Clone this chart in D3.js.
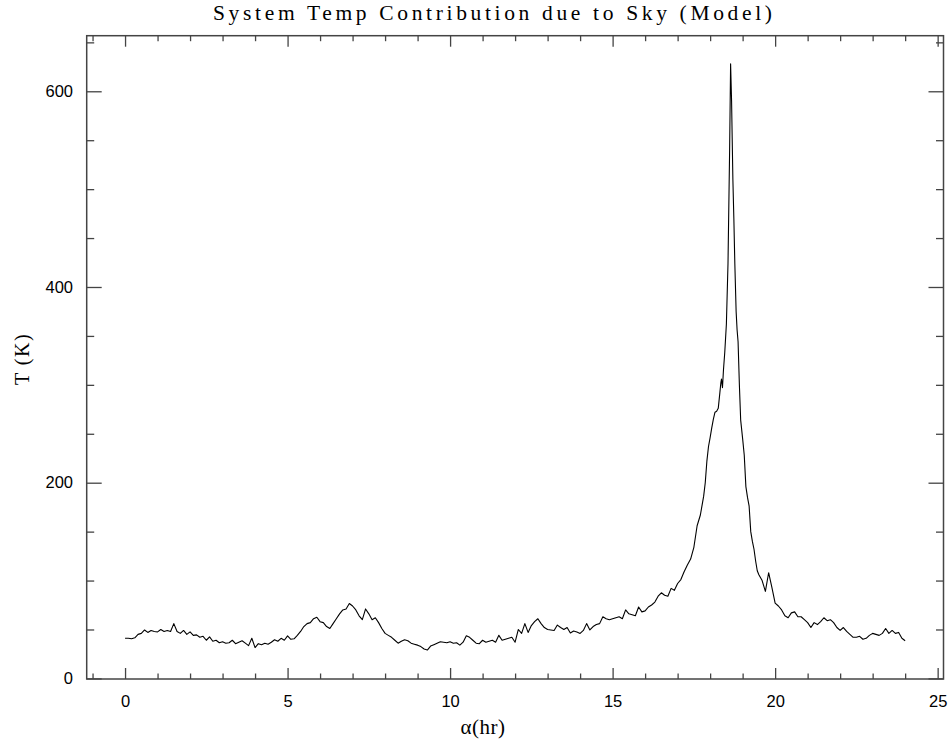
<!DOCTYPE html>
<meta charset="utf-8">
<style>

body {
  margin: 0;
  background: #fff;
}

.tick text {
  font: 16.5px "Liberation Sans", Arial, sans-serif;
  fill: #000;
}

.tick line {
  stroke: #444;
  stroke-width: 1.3px;
}

.serif {
  font-family: "Liberation Serif", "DejaVu Serif", serif;
  fill: #000;
}

</style>
<body>
<script src="https://d3js.org/d3.v7.js"></script>
<script>

// sky temperature (K) every 0.1 hr from 0.0 to 17.8
const tempsRise = [
  41, 41, 40.5, 41.5, 45, 46, 49.5, 47, 49, 48,
  47.5, 50, 48, 49, 48, 56, 48, 46, 49, 45,
  47.5, 44, 44.5, 42, 43, 39, 42.5, 38, 39, 36.5,
  37.5, 36, 36.5, 39, 35.5, 37, 38.5, 36, 33.5, 41,
  31.5, 35.5, 34.5, 36, 35, 37, 39.5, 38, 41, 39,
  43.5, 40, 40.5, 44, 48, 53, 56, 57, 61, 62.5,
  58, 57, 53, 51, 56, 61, 66, 70, 71, 76.5,
  74, 70, 64, 60, 71, 66, 60, 62, 57, 51,
  46, 44, 42, 39, 36, 38, 39.5, 38.5, 36, 35,
  34, 32.5, 30, 29, 33, 34.5, 36, 37.5, 37, 36.5,
  37.5, 36, 36.5, 34, 37, 43.5, 42, 39, 36, 35.5,
  39, 37, 38, 39, 37, 44, 39, 40, 41, 42,
  37, 50, 46, 56, 47, 54, 58, 61, 56, 52,
  50, 49.5, 49, 54.5, 52, 50, 52, 46.5, 48.5, 47.5,
  46, 49, 56, 49.5, 53, 55, 56, 63, 61, 60,
  61, 62, 63, 61, 70, 66, 65, 64, 73, 68,
  69, 73, 75, 78, 84, 87.5, 85, 84, 92, 90,
  97, 101, 109, 116, 122, 134, 156, 167, 186
];

// finer samples through the Galactic-centre peak
const peakHours = [
  17.85, 17.9, 17.95, 18.0, 18.05, 18.1, 18.15, 18.2, 18.25, 18.3,
  18.33, 18.35, 18.38, 18.41, 18.45, 18.5, 18.55, 18.6, 18.63, 18.66,
  18.7, 18.73, 18.76, 18.8, 18.83, 18.86, 18.9, 18.94, 19.0, 19.05,
  19.1, 19.15, 19.2, 19.25, 19.3, 19.35, 19.4, 19.45, 19.5
];
const peakTemps = [
  200, 222, 237, 246, 256, 265, 272, 273, 276, 292,
  302, 306, 297, 315, 333, 362, 424, 540, 628, 590,
  510, 470, 424, 375, 356, 344, 300, 264, 245, 228,
  196, 185, 176, 150, 140, 132, 120, 110, 106
];

// every 0.1 hr from 19.6 to 24.0
const tempsFall = [
  100, 89, 108, 93, 77,
  74, 70, 64, 62, 67, 68, 63, 63, 60,
  57, 52, 57, 55, 58, 62, 59, 60, 57, 52,
  49, 52, 48, 45, 42, 42, 43, 40, 41, 44,
  46, 45, 44, 46, 51, 46, 49, 46, 47, 41,
  38.5
];

const xMajor = [0, 5, 10, 15, 20, 25];
const xMinor = d3.range(-1, 26).filter(d => d % 5 !== 0);
const yMajor = [0, 200, 400, 600];
const yMinor = d3.range(0, 651, 50).filter(d => d % 200 !== 0);

const title = "System Temp Contribution due to Sky (Model)";
const xTitle = "α(hr)";
const yTitle = "T (K)";

const data = [
  ...tempsRise.map((t, i) => ({hr: i / 10, t: t})),
  ...peakHours.map((h, i) => ({hr: h, t: peakTemps[i]})),
  ...tempsFall.map((t, i) => ({hr: Math.round(196 + i) / 10, t: t}))
];

const width = 950;
const height = 743;
const frame = {left: 86.7, right: 943.5, top: 35.7, bottom: 679};

const xScale = d3.scaleLinear()
    .domain([-1.18, 25.18])
    .range([frame.left, frame.right]);

const yScale = d3.scaleLinear()
    .domain([-0.6, 656.8])
    .range([frame.bottom, frame.top]);

const svg = d3.select("body").append("svg")
    .attr("width", width)
    .attr("height", height);

function addAxis(axis, tx, ty) {
  const g = svg.append("g")
      .attr("transform", `translate(${tx}, ${ty})`)
      .call(axis);
  g.select(".domain").remove();
  return g;
}

// bottom
addAxis(d3.axisBottom(xScale).tickValues(xMajor).tickSizeInner(-11).tickSizeOuter(0).tickPadding(16.5), 0, frame.bottom);
addAxis(d3.axisBottom(xScale).tickValues(xMinor).tickSizeInner(-5.5).tickSizeOuter(0).tickFormat(""), 0, frame.bottom);
// top
addAxis(d3.axisTop(xScale).tickValues(xMajor).tickSizeInner(-11).tickSizeOuter(0).tickFormat(""), 0, frame.top);
addAxis(d3.axisTop(xScale).tickValues(xMinor).tickSizeInner(-5.5).tickSizeOuter(0).tickFormat(""), 0, frame.top);
// left
addAxis(d3.axisLeft(yScale).tickValues(yMajor).tickSizeInner(-15).tickSizeOuter(0).tickPadding(13.7), frame.left, 0);
addAxis(d3.axisLeft(yScale).tickValues(yMinor).tickSizeInner(-7.5).tickSizeOuter(0).tickFormat(""), frame.left, 0);
// right
addAxis(d3.axisRight(yScale).tickValues(yMajor).tickSizeInner(-15).tickSizeOuter(0).tickFormat(""), frame.right, 0);
addAxis(d3.axisRight(yScale).tickValues(yMinor).tickSizeInner(-7.5).tickSizeOuter(0).tickFormat(""), frame.right, 0);

svg.append("rect")
    .attr("x", frame.left)
    .attr("y", frame.top)
    .attr("width", frame.right - frame.left)
    .attr("height", frame.bottom - frame.top)
    .attr("fill", "none")
    .attr("stroke", "#444")
    .attr("stroke-width", 1.5);

const line = d3.line()
    .x(d => xScale(d.hr))
    .y(d => yScale(d.t));

svg.append("path")
    .datum(data)
    .attr("d", line)
    .attr("fill", "none")
    .attr("stroke", "#000")
    .attr("stroke-width", 1.1)
    .attr("stroke-linejoin", "round");

svg.append("text")
    .attr("class", "serif")
    .attr("x", 213)
    .attr("y", 20)
    .attr("textLength", 559)
    .attr("lengthAdjust", "spacing")
    .style("font-size", "21.5px")
    .text(title);

svg.append("text")
    .attr("class", "serif")
    .attr("x", 483)
    .attr("y", 734)
    .attr("text-anchor", "middle")
    .attr("letter-spacing", "0.5")
    .style("font-size", "21px")
    .text(xTitle);

svg.append("text")
    .attr("class", "serif")
    .attr("transform", "translate(29, 359) rotate(-90)")
    .attr("text-anchor", "middle")
    .attr("letter-spacing", "1.5")
    .style("font-size", "20px")
    .text(yTitle);

</script>
